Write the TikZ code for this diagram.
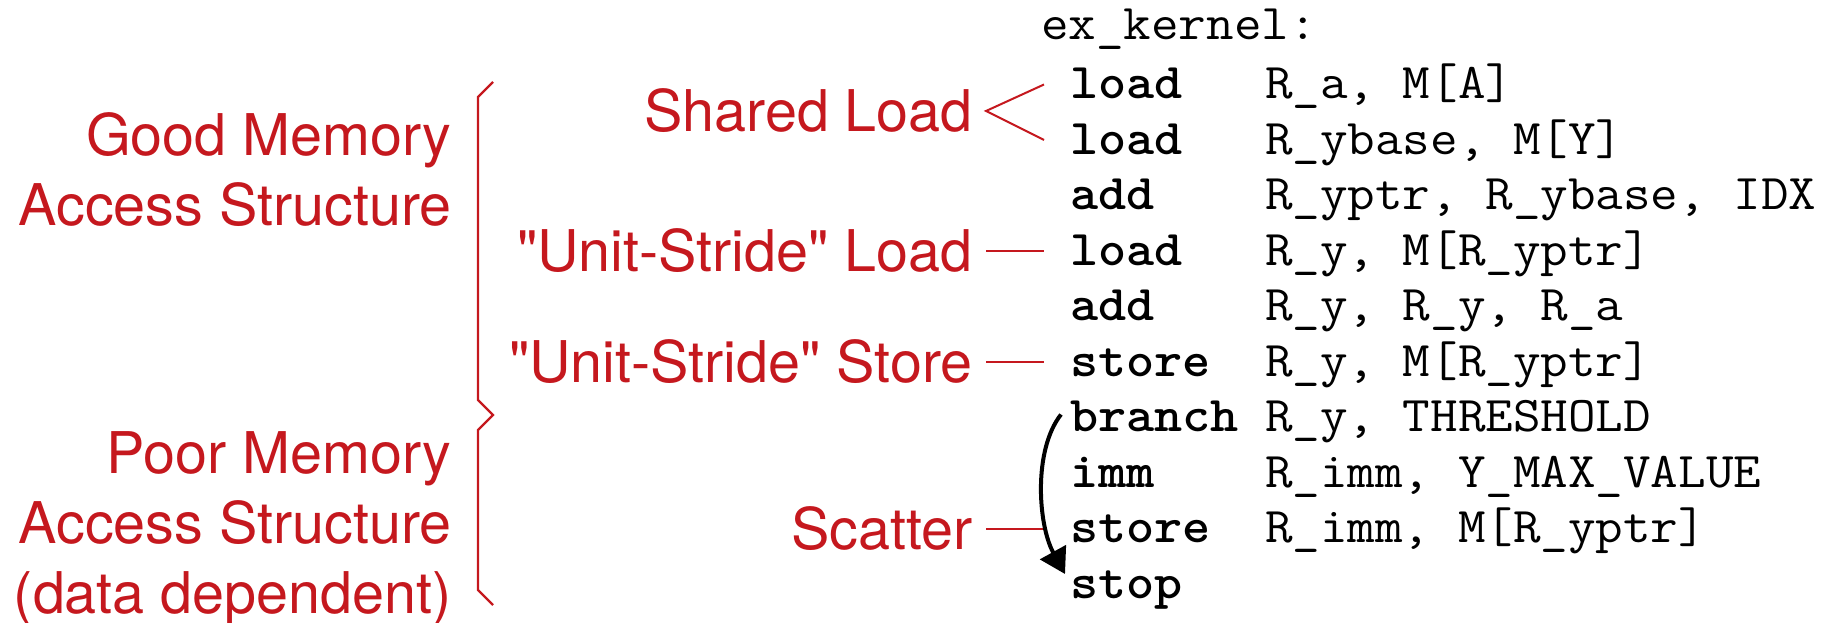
\documentclass[tikz,border=0pt]{standalone}
\usepackage{fontspec}
\usepackage{graphicx}
\newfontfamily\notefont{TeX Gyre Heros}[Ligatures=TeXOff]
\usetikzlibrary{arrows.meta}
\definecolor{slidered}{RGB}{197,24,30}
\tikzset{
  note/.style={text=slidered, font=\notefont\fontsize{57.5}{70}\selectfont,
    anchor=east, inner xsep=13pt, inner ysep=0pt, text height=41.3pt, text depth=0pt},
  group/.style={text=slidered, font=\notefont\fontsize{57.5}{70}\selectfont,
    anchor=base east, inner sep=0pt},
  codeline/.style={font=\ttfamily\fontsize{50}{55.5}\selectfont,
    anchor=base west, inner xsep=26pt, inner ysep=0pt, text height=28pt, text depth=0pt},
  tie/.style={draw=slidered, line width=2pt},
  bracket/.style={draw=slidered, line width=2.2pt, line join=miter},
  jump/.style={draw=black, line width=4pt, -{Triangle[length=25pt,width=29pt]}},
}
% one listing line: bold mnemonic in a fixed column, then the operands
\newcommand{\asm}[2]{\scalebox{1.07}[1]{\makebox[182.2pt][l]{\bfseries #1}#2}}
\begin{document}
\begin{tikzpicture}[x=1pt,y=-1pt]
\useasboundingbox (0,0) rectangle (1844,623);

% assembly listing
\node[codeline, inner xsep=0pt] (title) at (1041,40) {\scalebox{1.07}[1]{ex\_kernel:}};
\node[codeline] (l1)  at (1044,98.5)  {\asm{load}{R\_a, M[A]}};
\node[codeline] (l2)  at (1044,154)   {\asm{load}{R\_ybase, M[Y]}};
\node[codeline] (l3)  at (1044,209.5) {\asm{add}{R\_yptr, R\_ybase, IDX}};
\node[codeline] (l4)  at (1044,265)   {\asm{load}{R\_y, M[R\_yptr]}};
\node[codeline] (l5)  at (1044,320.5) {\asm{add}{R\_y, R\_y, R\_a}};
\node[codeline] (l6)  at (1044,376)   {\asm{store}{R\_y, M[R\_yptr]}};
\node[codeline] (l7)  at (1044,431.5) {\asm{branch}{R\_y, THRESHOLD}};
\node[codeline] (l8)  at (1044,487)   {\asm{imm}{R\_imm, Y\_MAX\_VALUE}};
\node[codeline] (l9)  at (1044,542.5) {\asm{store}{R\_imm, M[R\_yptr]}};
\node[codeline] (l10) at (1044,598)   {\asm{stop}{}};

% access-pattern notes
\node[note] (shared) at (986,111) {Shared Load};
\node[note, at={(l4.west)}, xshift=-58pt] (usload) {"Unit-Stride" Load};
\node[note, at={(l6.west)}, xshift=-58pt] (usstore) {"Unit-Stride" Store};
\node[note, at={(l9.west)}, xshift=-58pt] (scatter) {Scatter};

\draw[tie] (l1.west) -- (shared.east) -- (l2.west);
\draw[tie] (usload.east) -- (l4.west);
\draw[tie] (usstore.east) -- (l6.west);
\draw[tie] (scatter.east) -- (l9.west);

% branch over the scatter store
\draw[jump] ([xshift=17pt,yshift=3pt]l7.west) .. controls (1033,450) and (1038,525) .. ([xshift=21pt,yshift=10pt]l10.west);

% grouping brace and its captions
\draw[bracket] (493,82) -- (478,97) -- (478,400) -- (493,415) -- (478,430) -- (478,590) -- (493,605);
\node[group] (good) at (452,156) {\begin{tabular}[t]{@{}r@{}}Good Memory\\ Access Structure\end{tabular}};
\node[group] (poor) at (452,473) {\begin{tabular}[t]{@{}r@{}}Poor Memory\\ Access Structure\\ (data dependent)\end{tabular}};
\end{tikzpicture}
\end{document}
